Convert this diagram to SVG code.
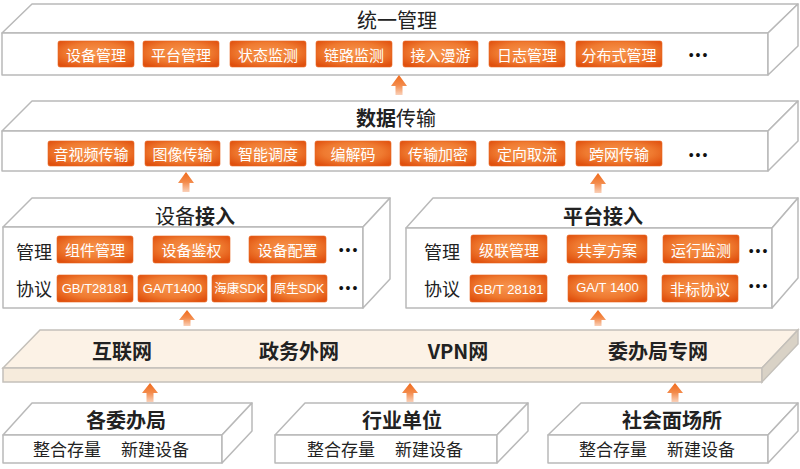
<svg xmlns="http://www.w3.org/2000/svg" width="800" height="469" viewBox="0 0 800 469">
<defs>
<radialGradient id="btnG" cx="50%" cy="45%" r="65%">
<stop offset="0" stop-color="#f7944e"/>
<stop offset="0.6" stop-color="#ef7a30"/>
<stop offset="1" stop-color="#e0500e"/>
</radialGradient>
<linearGradient id="arrG" x1="0" y1="0" x2="0" y2="1">
<stop offset="0" stop-color="#f06a1a"/>
<stop offset="0.5" stop-color="#f38a4a"/>
<stop offset="1" stop-color="#fad0b8"/>
</linearGradient>
<style>
.face{fill:#fff;stroke:#b9b9b9;stroke-width:1.5;stroke-linejoin:round}
.bf{fill:#fcf2e6;stroke:#c4c0ba;stroke-width:1.5}
.bfront{fill:#f6ebdc;stroke:#c4c0ba;stroke-width:1.5}
.bside{fill:#d9d2c6;stroke:#c4c0ba;stroke-width:1.5}
.btn rect{fill:url(#btnG);stroke:#e86420;stroke-width:0.6}
.btn text{fill:#fff;font-family:"Noto Sans CJK SC",sans-serif;font-size:15px;text-anchor:middle;dominant-baseline:central}
.btn text.lat{font-family:"Liberation Sans","Noto Sans CJK SC",sans-serif;font-size:13px}
.btn text.sdk{font-family:"Liberation Sans","Noto Sans CJK SC",sans-serif;font-size:12.5px}
.title{fill:#222;font-family:"Noto Sans CJK SC",sans-serif;font-size:20px;text-anchor:middle;dominant-baseline:central}
.b{font-weight:bold}
.lbl{fill:#222;font-family:"Noto Sans CJK SC",sans-serif;font-size:18px;text-anchor:middle;dominant-baseline:central}
.sub{fill:#222;font-family:"Noto Sans CJK SC",sans-serif;font-size:17px;text-anchor:middle;dominant-baseline:central}
.dots{fill:#111;font-family:"Liberation Sans",sans-serif;font-size:14px;letter-spacing:2px;text-anchor:middle;dominant-baseline:central}
.arr{fill:url(#arrG)}
</style>
</defs>

<g id="unified-management">
<polygon class="face" points="2,33 32,4 798,4 768,33"/>
<rect class="face" x="2" y="33" width="766" height="42"/>
<polygon class="face" points="768,33 798,4 798,46 768,75"/>
<text class="title" x="397" y="19">统一管理</text>
<g class="btn">
<rect x="58" y="41" width="76" height="26" rx="2"/><text x="96" y="54">设备管理</text>
<rect x="143" y="41" width="76" height="26" rx="2"/><text x="181" y="54">平台管理</text>
<rect x="230" y="41" width="76" height="26" rx="2"/><text x="268" y="54">状态监测</text>
<rect x="316" y="41" width="76" height="26" rx="2"/><text x="354" y="54">链路监测</text>
<rect x="403" y="41" width="75" height="26" rx="2"/><text x="440.5" y="54">接入漫游</text>
<rect x="489" y="41" width="76" height="26" rx="2"/><text x="527" y="54">日志管理</text>
<rect x="576" y="41" width="86" height="26" rx="2"/><text x="619" y="54">分布式管理</text>
</g>
<text class="dots" x="699" y="55">•••</text>
</g>

<g id="data-transmission">
<polygon class="face" points="2,131 32,101 798,101 768,131"/>
<rect class="face" x="2" y="131" width="766" height="40"/>
<polygon class="face" points="768,131 798,101 798,141 768,171"/>
<text class="title" x="396" y="117"><tspan class="b">数据</tspan>传输</text>
<g class="btn">
<rect x="48" y="141" width="86" height="25" rx="2"/><text x="91" y="153.5">音视频传输</text>
<rect x="145" y="141" width="75" height="25" rx="2"/><text x="182.5" y="153.5">图像传输</text>
<rect x="230" y="141" width="76" height="25" rx="2"/><text x="268" y="153.5">智能调度</text>
<rect x="315" y="141" width="76" height="25" rx="2"/><text x="353" y="153.5">编解码</text>
<rect x="400" y="141" width="76" height="25" rx="2"/><text x="438" y="153.5">传输加密</text>
<rect x="489" y="141" width="76" height="25" rx="2"/><text x="527" y="153.5">定向取流</text>
<rect x="576" y="141" width="86" height="25" rx="2"/><text x="619" y="153.5">跨网传输</text>
</g>
<text class="dots" x="699" y="155">•••</text>
</g>

<g id="device-access">
<polygon class="face" points="3,227 32,198 390,198 363,227"/>
<rect class="face" x="3" y="227" width="360" height="81"/>
<polygon class="face" points="363,227 390,198 390,279 363,308"/>
<text class="title" x="195" y="215">设备<tspan class="b">接入</tspan></text>
<text class="lbl" x="34" y="251">管理</text>
<text class="lbl" x="34" y="288">协议</text>
<g class="btn">
<rect x="57" y="236" width="76" height="27" rx="2"/><text x="95" y="249.5">组件管理</text>
<rect x="153" y="236" width="77" height="27" rx="2"/><text x="191.5" y="249.5">设备鉴权</text>
<rect x="249" y="236" width="77" height="27" rx="2"/><text x="287.5" y="249.5">设备配置</text>
<rect x="57" y="275" width="76" height="27" rx="2"/><text class="lat" x="95" y="288.5">GB/T28181</text>
<rect x="138" y="275" width="69" height="27" rx="2"/><text class="lat" x="172.5" y="288.5">GA/T1400</text>
<rect x="212" y="275" width="55" height="27" rx="2"/><text class="sdk" x="239.5" y="289">海康SDK</text>
<rect x="271" y="275" width="56" height="27" rx="2"/><text class="sdk" x="299" y="289">原生SDK</text>
</g>
<text class="dots" x="349" y="250">•••</text>
<text class="dots" x="349" y="288">•••</text>
</g>

<g id="platform-access">
<polygon class="face" points="406,228 433,198 798,198 772,228"/>
<rect class="face" x="406" y="228" width="366" height="80"/>
<polygon class="face" points="772,228 798,198 798,278 772,308"/>
<text class="title b" x="603" y="215">平台接入</text>
<text class="lbl" x="442" y="251">管理</text>
<text class="lbl" x="442" y="288">协议</text>
<g class="btn">
<rect x="471" y="235" width="76" height="28" rx="2"/><text x="509" y="249">级联管理</text>
<rect x="567" y="235" width="80" height="28" rx="2"/><text x="607" y="249">共享方案</text>
<rect x="663" y="235" width="76" height="28" rx="2"/><text x="701" y="249">运行监测</text>
<rect x="470" y="275" width="77" height="27" rx="2"/><text class="lat" x="508.5" y="289">GB/T 28181</text>
<rect x="568" y="275" width="79" height="27" rx="2"/><text class="lat" x="607.5" y="287">GA/T 1400</text>
<rect x="662" y="275" width="76" height="27" rx="2"/><text x="700" y="288.5">非标协议</text>
</g>
<text class="dots" x="759" y="251">•••</text>
<text class="dots" x="759" y="286">•••</text>
</g>

<g id="network-layer">
<polygon class="bf" points="3,368 40,330 798,330 762,368"/>
<rect class="bfront" x="3" y="368" width="759" height="14"/>
<polygon class="bside" points="762,368 798,330 798,344 762,382"/>
<text class="title b" x="122" y="350">互联网</text>
<text class="title b" x="299" y="350">政务外网</text>
<text class="title b" x="458" y="350">VPN网</text>
<text class="title b" x="658" y="350">委办局专网</text>
</g>

<g id="commissions-bureaus">
<polygon class="face" points="3,435 32,403 252,403 222,435"/>
<rect class="face" x="3" y="435" width="219" height="28"/>
<polygon class="face" points="222,435 252,403 252,431 222,463"/>
<text class="title b" x="126" y="419">各委办局</text>
<text class="sub" x="111" y="448">整合存量<tspan dx="20">新建设备</tspan></text>
</g>

<g id="industry-units">
<polygon class="face" points="275,435 305,403 528,403 497,435"/>
<rect class="face" x="275" y="435" width="222" height="28"/>
<polygon class="face" points="497,435 528,403 528,431 497,463"/>
<text class="title b" x="402" y="419">行业单位</text>
<text class="sub" x="385" y="448">整合存量<tspan dx="20">新建设备</tspan></text>
</g>

<g id="public-places">
<polygon class="face" points="548,435 581,403 798,403 768,435"/>
<rect class="face" x="548" y="435" width="220" height="28"/>
<polygon class="face" points="768,435 798,403 798,431 768,463"/>
<text class="title b" x="672" y="419">社会面场所</text>
<text class="sub" x="657" y="448">整合存量<tspan dx="20">新建设备</tspan></text>
</g>

<g id="connectors">
<path class="arr" d="M399,75 L407,86 L402.5,86 L402.5,95 L395.5,95 L395.5,86 L391,86 Z"/>
<path class="arr" d="M186,172 L194,183 L189.5,183 L189.5,192 L182.5,192 L182.5,183 L178,183 Z"/>
<path class="arr" d="M598,173 L606,184 L601.5,184 L601.5,193 L594.5,193 L594.5,184 L590,184 Z"/>
<path class="arr" d="M187,310 L195,320 L190.5,320 L190.5,326 L183.5,326 L183.5,320 L179,320 Z"/>
<path class="arr" d="M598,310 L606,320 L601.5,320 L601.5,326 L594.5,326 L594.5,320 L590,320 Z"/>
<path class="arr" d="M150,383 L158,393 L153.5,393 L153.5,402 L146.5,402 L146.5,393 L142,393 Z"/>
<path class="arr" d="M410,383 L418,393 L413.5,393 L413.5,402 L406.5,402 L406.5,393 L402,393 Z"/>
<path class="arr" d="M675,383 L683,393 L678.5,393 L678.5,402 L671.5,402 L671.5,393 L667,393 Z"/>
</g>
</svg>
